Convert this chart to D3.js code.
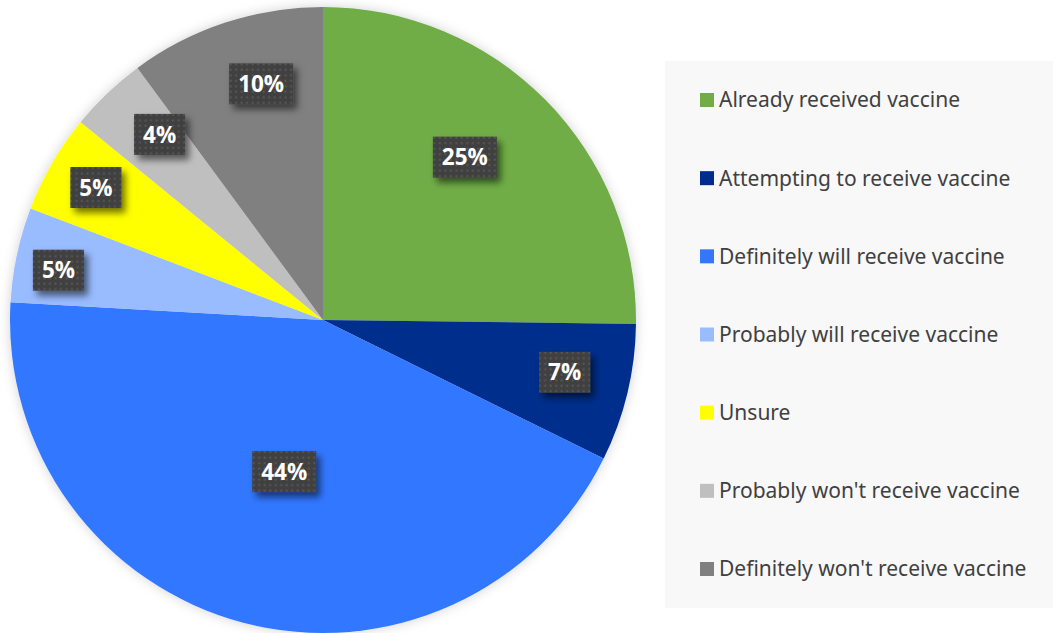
<!DOCTYPE html>
<html>
<head>
<meta charset="utf-8">
<script src="https://cdn.jsdelivr.net/npm/d3@7"></script>
<style>
  html, body { margin: 0; padding: 0; background: #ffffff; }
  svg { display: block; }
</style>
</head>
<body>
<svg id="chart" width="1053" height="633"></svg>
<script>
// Vaccination intent survey — share of respondents
const categories = [
  "Already received vaccine",
  "Attempting to receive vaccine",
  "Definitely will receive vaccine",
  "Probably will receive vaccine",
  "Unsure",
  "Probably won't receive vaccine",
  "Definitely won't receive vaccine"
];
const shares = [25.2, 7.1, 43.6, 4.9, 5.1, 4.0, 10.1];
const colors = ["#70AD47", "#002D8C", "#3377FF", "#99BBFF", "#FFFF00", "#BFBFBF", "#808080"];

// label placement: fraction of radius, and angular nudge (degrees) from the slice middle
const labelRadius = [0.69, 0.79, 0.50, 0.86, 0.84, 0.79, 0.78];
const labelNudge = [-4.3, -1.3, -0.4, -1.4, 0.2, 2.2, 3.5];

const svg = d3.select("#chart");
const cx = 323, cy = 320, R = 313;

const defs = svg.append("defs");

// soft halo around the pie
const halo = defs.append("filter").attr("id", "halo")
  .attr("x", "-10%").attr("y", "-10%").attr("width", "120%").attr("height", "120%");
halo.append("feDropShadow").attr("dx", 0).attr("dy", 0)
  .attr("stdDeviation", 6).attr("flood-color", "#000").attr("flood-opacity", 0.18);

// shadow behind the value labels
const lblShadow = defs.append("filter").attr("id", "lblShadow")
  .attr("x", "-40%").attr("y", "-40%").attr("width", "180%").attr("height", "180%");
lblShadow.append("feDropShadow").attr("dx", 4).attr("dy", 5)
  .attr("stdDeviation", 3.5).attr("flood-color", "#000").attr("flood-opacity", 0.55);

// dotted texture for the label boxes
const pat = defs.append("pattern").attr("id", "dots")
  .attr("patternUnits", "userSpaceOnUse").attr("width", 5.5).attr("height", 5.5);
pat.append("rect").attr("width", 5.5).attr("height", 5.5).attr("fill", "#404040");
pat.append("rect").attr("x", 1.5).attr("y", 1.5).attr("width", 2).attr("height", 2).attr("fill", "#575757");

const pie = d3.pie().sort(null).value(d => d.v);
const arcs = pie(categories.map((c, i) => ({ c, v: shares[i], i })));
const arc = d3.arc().innerRadius(0).outerRadius(R);

const g = svg.append("g").attr("transform", `translate(${cx},${cy})`);
g.append("g").attr("filter", "url(#halo)")
  .selectAll("path").data(arcs).join("path")
  .attr("d", arc)
  .attr("fill", d => colors[d.data.i]);

// value labels
const lg = g.append("g");
arcs.forEach(d => {
  const i = d.data.i;
  const a = (d.startAngle + d.endAngle) / 2 + labelNudge[i] * Math.PI / 180;
  const r = R * labelRadius[i];
  const x = r * Math.sin(a), y = -r * Math.cos(a);
  const item = lg.append("g").attr("transform", `translate(${x},${y})`);
  const box = item.append("rect").attr("fill", "url(#dots)").attr("filter", "url(#lblShadow)");
  const t = item.append("text")
    .attr("text-anchor", "middle")
    .attr("dy", "0.36em")
    .attr("fill", "#ffffff")
    .attr("font-family", "'Open Sans', 'Noto Sans', sans-serif")
    .attr("font-weight", "bold")
    .attr("font-size", 22.5)
    .text(Math.round(d.data.v) + "%");
  const w = t.node().getComputedTextLength() + 18, h = 41;
  box.attr("x", -w / 2).attr("y", -h / 2).attr("width", w).attr("height", h);
});

// legend
const legend = svg.append("g");
legend.append("rect").attr("x", 665).attr("y", 61).attr("width", 388).attr("height", 547).attr("fill", "#F8F8F8");
const ly = d3.scalePoint().domain(categories).range([100, 569]);
const items = legend.selectAll("g.item").data(categories).join("g")
  .attr("class", "item")
  .attr("transform", d => `translate(700,${ly(d)})`);
items.append("rect").attr("x", 0).attr("y", -7).attr("width", 14).attr("height", 14)
  .attr("fill", (d, i) => colors[i]);
items.append("text")
  .attr("x", 19).attr("dy", "0.35em")
  .attr("fill", "#404040")
  .attr("font-family", "'Noto Sans', 'Open Sans', sans-serif")
  .attr("font-size", 21)
  .text(d => d);
</script>
</body>
</html>
